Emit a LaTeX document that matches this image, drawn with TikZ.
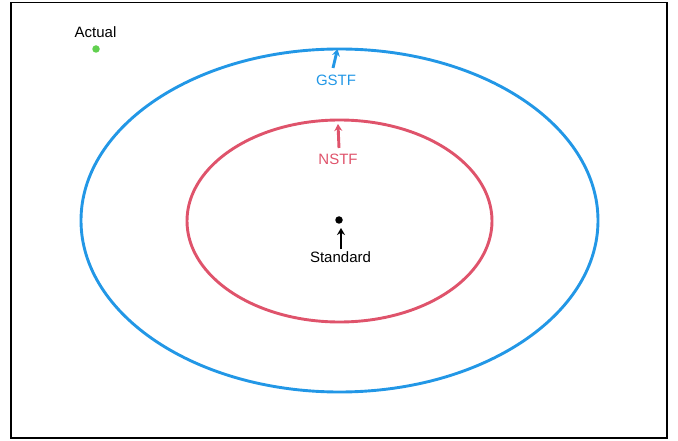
\documentclass[tikz,border=0pt]{standalone}
\usepackage{fontspec}
\setmainfont{Liberation Sans}
\usetikzlibrary{arrows.meta}
\definecolor{rblue}{HTML}{2297E6}
\definecolor{rred}{HTML}{DF536B}
\definecolor{rgreen}{HTML}{61D04F}
\begin{document}
\begin{tikzpicture}[x=1pt,y=-1pt,
  lbl/.style={font=\fontsize{15}{17}\selectfont, inner sep=0pt},
  ring/.style={line width=2.9pt},
  pointer/.style={line width=2.9pt, -{Stealth[length=7pt,width=8pt]}},
  dot/.style={circle, inner sep=0pt, minimum size=7.5pt}]
  \useasboundingbox (0,0) rectangle (678,441);
  % plot frame
  \draw[line width=1.2pt] (11,2.5) rectangle (667,438);

  % feasible regions
  \draw[ring, rblue] (339.5,220.5) ellipse [x radius=258.5, y radius=171.5];
  \draw[ring, rred] (339.5,221) ellipse [x radius=152.5, y radius=101];

  % standard point
  \node[dot, fill=black] (std) at (339,220) {};
  \node[lbl] (stdlbl) at (340.5,257) {Standard};
  \coordinate (stdtail) at (341,249);
  \coordinate (stdhead) at (341,228);
  \draw[pointer, black] (stdtail) -- (stdhead);

  % NSTF pointer
  \node[lbl, text=rred] (nstf) at (338,159) {NSTF};
  \coordinate (ntail) at (339,148);
  \coordinate (nhead) at (338,124);
  \draw[pointer, rred] (ntail) -- (nhead);

  % GSTF pointer
  \node[lbl, text=rblue] (gstf) at (336,80) {GSTF};
  \coordinate (gtail) at (333,68);
  \coordinate (ghead) at (337.5,49);
  \draw[pointer, rblue] (gtail) -- (ghead);

  % actual point
  \node[dot, fill=rgreen] (act) at (96,49) {};
  \node[lbl] (actlbl) at (95.5,32) {Actual};
\end{tikzpicture}
\end{document}
